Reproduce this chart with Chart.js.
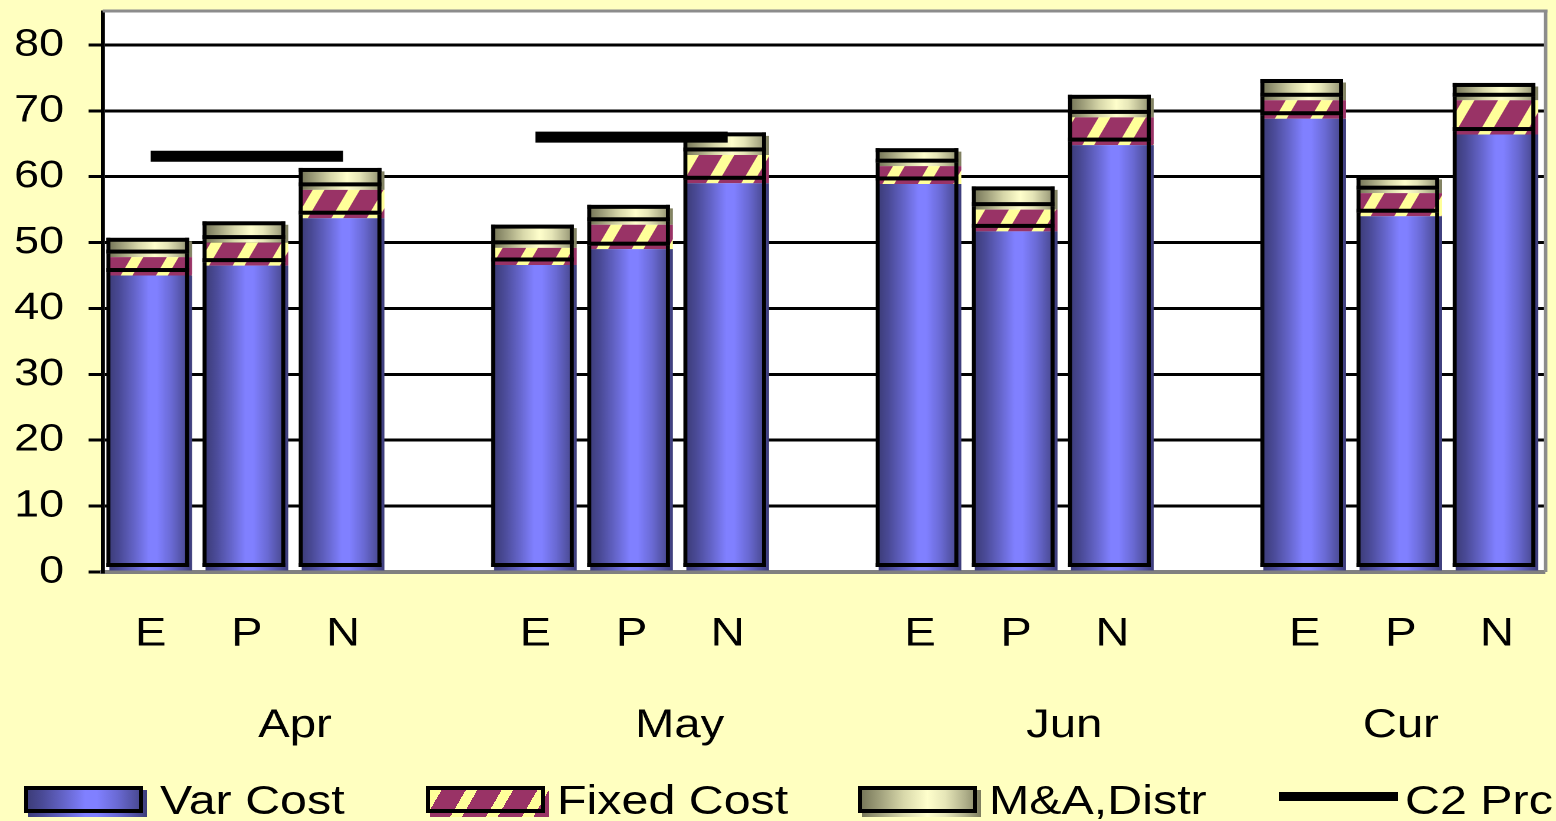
<!DOCTYPE html>
<html>
<head>
<meta charset="utf-8">
<title>Cost build-up vs C2 price</title>
<script src="https://cdn.jsdelivr.net/npm/chart.js@4.4.1/dist/chart.umd.min.js"></script>
<style>
  html, body { margin: 0; padding: 0; background: #FFFFC0; }
  #stage { position: relative; width: 1556px; height: 821px; overflow: hidden; background: #FFFFC0; }
  #plot { position: absolute; left: 0; top: 0; display: block; }
  .key-fill, .key-frame, .key-rule { position: absolute; box-sizing: border-box; }
  .key-frame { border: 4px solid #000; }
  .key-rule { background: #000; }
  .key-text { position: absolute; white-space: nowrap; font-family: 'Liberation Sans', Arial, sans-serif;
              font-size: 41px; line-height: 41px; color: #000; transform: scaleX(1.18); transform-origin: 0 0; }
</style>
</head>
<body>
<div id="stage">
  <canvas id="plot" width="1319" height="821" style="width:1556px;height:821px"></canvas>
  <div id="legend"></div>
</div>
<script>
// ---- data -------------------------------------------------------------
const groups     = ['Apr', 'May', 'Jun', 'Cur'];
const categories = ['E', 'P', 'N', '', 'E', 'P', 'N', '', 'E', 'P', 'N', '', 'E', 'P', 'N'];
const varCost    = [45.0, 46.5, 53.7, null, 46.6, 49.0, 59.0, null, 58.9, 51.7, 64.8, null, 68.8, 54.0, 66.4];
const fixedCost  = [2.8, 3.5, 4.3, null, 2.6, 3.7, 4.3, null, 2.7, 3.3, 4.2, null, 2.8, 3.5, 5.2];
const maDistr    = [2.4, 2.7, 2.8, null, 3.0, 2.5, 2.9, null, 2.2, 3.0, 2.9, null, 2.7, 2.1, 2.1];
const c2Prc      = [63.1, 63.1, 63.1, null, 66.0, 66.0, 66.0, null, null, null, null, null, null, null, null];
const yTicks     = [0, 10, 20, 30, 40, 50, 60, 70, 80];

// each month label sits under its three bars plus the spacer slot after them
const groupCenters = groups.map((g, gi) => {
  const first = gi * 4;
  const last = Math.min(first + 3, categories.length - 1);
  return (first + last) / 2;
});

// ---- fills --------------------------------------------------------------
const BAR_FRACTION = 0.86;
const VAR_STOPS = [[0, '#3D3D7A'], [0.12, '#4A4A96'], [0.3, '#6464C8'], [0.48, '#8080FF'],
                   [0.58, '#8080FF'], [0.75, '#6A6AD4'], [0.9, '#50509F'], [1, '#3D3D7A']];
const MA_STOPS  = [[0, '#78785A'], [0.15, '#A0A07C'], [0.35, '#D8D8AA'], [0.55, '#FFFFCC'],
                   [0.7, '#E6E6B8'], [0.87, '#AFAF8A'], [1, '#7D7D5E']];
const STRIPE_DARK = '#993366', STRIPE_LIGHT = '#FFFF99';

function columnGradient(stops) {
  const flat = stops[3][1];
  return (c) => {
    const chart = c.chart, xs = chart.scales && chart.scales.x;
    if (c.type !== 'data' || !xs) return flat;
    const cx = xs.getPixelForValue(c.dataIndex);
    const half = xs.width / categories.length * BAR_FRACTION / 2;
    if (!Number.isFinite(cx) || !Number.isFinite(half) || half <= 0) return flat;
    const g = chart.ctx.createLinearGradient(cx - half, 0, cx + half, 0);
    stops.forEach(([o, col]) => g.addColorStop(o, col));
    return g;
  };
}

function stripePattern() {
  const k = 2, P = 30, H = 60, w = 10;
  const tile = document.createElement('canvas');
  tile.width = P * k; tile.height = H * k;
  const t = tile.getContext('2d');
  t.scale(k, k);
  t.fillStyle = STRIPE_DARK; t.fillRect(0, 0, P, H);
  t.fillStyle = STRIPE_LIGHT;
  for (let s = -1; s <= 1; s++) {
    const x0 = s * P;
    t.beginPath();
    t.moveTo(x0, H); t.lineTo(x0 + w, H); t.lineTo(x0 + P + w, 0); t.lineTo(x0 + P, 0);
    t.closePath(); t.fill();
  }
  const p = document.createElement('canvas').getContext('2d').createPattern(tile, 'repeat');
  p.setTransform(new DOMMatrix([1 / k, 0, 0, 1 / k, 0, 0]));
  return p;
}

// ---- plugins -------------------------------------------------------------
const plotFrame = {
  id: 'plotFrame',
  beforeDraw(chart) {
    const { ctx, chartArea: a } = chart;
    ctx.save();
    ctx.fillStyle = '#FFFFC0';
    ctx.fillRect(0, 0, chart.width, chart.height);
    ctx.fillStyle = '#FFFFFF';
    ctx.fillRect(a.left, a.top, a.right - a.left, a.bottom - a.top);
    ctx.restore();
  },
  beforeDatasetsDraw(chart) {
    const { ctx, chartArea: a } = chart;
    ctx.save();
    ctx.fillStyle = '#8C8C8C';
    ctx.fillRect(a.left, a.top - 2.5, a.right - a.left + 2, 3);
    ctx.fillRect(a.right - 1, a.top - 2.5, 3, a.bottom - a.top + 2.5);
    ctx.restore();
  }
};

// black frame around each stacked segment, printed slightly up-left of its fill;
// a segment with another one stacked on it loses its top edge under that fill
const segmentOutline = {
  id: 'segmentOutline',
  afterDatasetsDraw(chart, args, o) {
    const ctx = chart.ctx;
    const metas = chart.getSortedVisibleDatasetMetas().filter(m => m.type === 'bar')
      .sort((a, b) => a.index - b.index);
    const valid = (m, i) => {
      const el = m.data[i];
      if (!el) return null;
      const p = el.getProps(['x', 'y', 'base', 'width'], true);
      if (![p.x, p.y, p.base, p.width].every(Number.isFinite) || Math.abs(p.base - p.y) <= 0) return null;
      return p;
    };
    ctx.save();
    ctx.fillStyle = o.color;
    metas.forEach((m, mi) => {
      m.data.forEach((el, i) => {
        const p = valid(m, i);
        if (!p) return;
        const covered = metas.slice(mi + 1).some(u => valid(u, i));
        const h = Math.abs(p.base - p.y);
        const left = p.x - p.width / 2 - o.dx, top = Math.min(p.y, p.base) - o.dy;
        if (!covered) ctx.fillRect(left, top, p.width, o.h);
        ctx.fillRect(left, top + h - o.h, p.width, o.h);
        ctx.fillRect(left, top, o.v, h);
        ctx.fillRect(left + p.width - o.v, top, o.v, h);
      });
    });
    ctx.restore();
  }
};

// ---- chart ---------------------------------------------------------------
Chart.defaults.font.family = "'Liberation Sans', Arial, sans-serif";
Chart.defaults.color = '#000';

const chart = new Chart(document.getElementById('plot'), {
  type: 'bar',
  data: {
    labels: categories,
    datasets: [
      { label: 'Var Cost', data: varCost, backgroundColor: columnGradient(VAR_STOPS),
        borderWidth: 0, stack: 'cost' },
      { label: 'Fixed Cost', data: fixedCost, backgroundColor: stripePattern(),
        borderWidth: 0, stack: 'cost' },
      { label: 'M&A,Distr', data: maDistr, backgroundColor: columnGradient(MA_STOPS),
        borderWidth: 0, stack: 'cost' },
      { type: 'line', label: 'C2 Prc', data: c2Prc, borderColor: '#000', borderWidth: 11,
        borderCapStyle: 'butt', pointRadius: 0, pointHoverRadius: 0, spanGaps: false, order: -1 }
    ]
  },
  options: {
    responsive: false,
    animation: false,
    devicePixelRatio: 2,
    layout: { padding: { top: 12, right: 9.3, bottom: 59, left: 0 } },
    datasets: { bar: { barPercentage: BAR_FRACTION, categoryPercentage: 1.0 } },
    plugins: {
      legend: { display: false },
      tooltip: { enabled: false },
      segmentOutline: { color: '#000', dx: 2.5, dy: 3.5, h: 4, v: 3.4 }
    },
    scales: {
      x: {
        type: 'category', stacked: true, offset: true,
        grid: { display: false, drawTicks: false, tickLength: 0 },
        border: { display: true, color: '#808080', width: 4 },
        ticks: { autoSkip: false, maxRotation: 0, minRotation: 0, padding: 38.5, font: { size: 40 }, color: '#000' },
        afterFit(s) { s.height = 90; s.paddingLeft = 0; s.paddingRight = 0; }
      },
      x2: {
        type: 'linear', position: 'bottom', weight: 1, offset: false,
        min: -0.5, max: categories.length - 0.5,
        grid: { display: false, drawTicks: false, tickLength: 0, offset: false },
        border: { display: false },
        afterBuildTicks(s) { s.ticks = groupCenters.map(v => ({ value: v })); },
        ticks: { autoSkip: false, maxRotation: 0, minRotation: 0, padding: 40, font: { size: 40 }, color: '#000',
                 callback: (v, i) => groups[i] },
        afterFit(s) { s.height = 100; s.paddingLeft = 0; s.paddingRight = 0; }
      },
      y: {
        stacked: true, min: 0, max: 85,
        afterBuildTicks(s) { s.ticks = yTicks.map(v => ({ value: v })); },
        grid: { color: c => (c.tick && c.tick.value === 0) ? 'rgba(0,0,0,0)' : '#000',
                lineWidth: 3, drawTicks: true, tickLength: 11.9, tickColor: '#000', tickWidth: 3 },
        border: { display: true, color: '#000', width: 3.4 },
        ticks: { padding: 20.8, font: { size: 38 }, color: '#000' },
        afterFit(s) { s.width = 87; s.paddingTop = 0; s.paddingBottom = 0; }
      }
    }
  },
  plugins: [plotFrame, segmentOutline]
});

// ---- legend row ------------------------------------------------------------
const KEY_LEFT = [24, 426, 858, 1279];
const KEY_TEXT_LEFT = [160, 557, 989, 1405];
const cssStops = stops => stops.map(([o, c]) => `${c} ${o * 100}%`).join(', ');
const KEY_FILLS = [
  `linear-gradient(to right, ${cssStops(VAR_STOPS)})`,
  `repeating-linear-gradient(120deg, ${STRIPE_LIGHT} 0 10px, ${STRIPE_DARK} 10px 31px)`,
  `linear-gradient(to right, ${cssStops(MA_STOPS)})`,
  null
];

function buildKey(ch) {
  const host = document.getElementById('legend');
  const add = (cls, css, text) => {
    const d = document.createElement('div');
    d.className = cls;
    Object.assign(d.style, css);
    if (text) d.textContent = text;
    host.appendChild(d);
  };
  ch.data.datasets.forEach((ds, i) => {
    const x = KEY_LEFT[i];
    if (ds.type === 'line') {
      add('key-rule', { left: x + 'px', top: '791.5px', width: '119px', height: '9px' });
    } else {
      add('key-fill', { left: (x + 3.5) + 'px', top: '789.5px', width: '119px', height: '27px', background: KEY_FILLS[i] });
      add('key-frame', { left: x + 'px', top: '786px', width: '119px', height: '27px' });
    }
    add('key-text', { left: KEY_TEXT_LEFT[i] + 'px', top: '780px' }, ds.label);
  });
}
buildKey(chart);
</script>
</body>
</html>
